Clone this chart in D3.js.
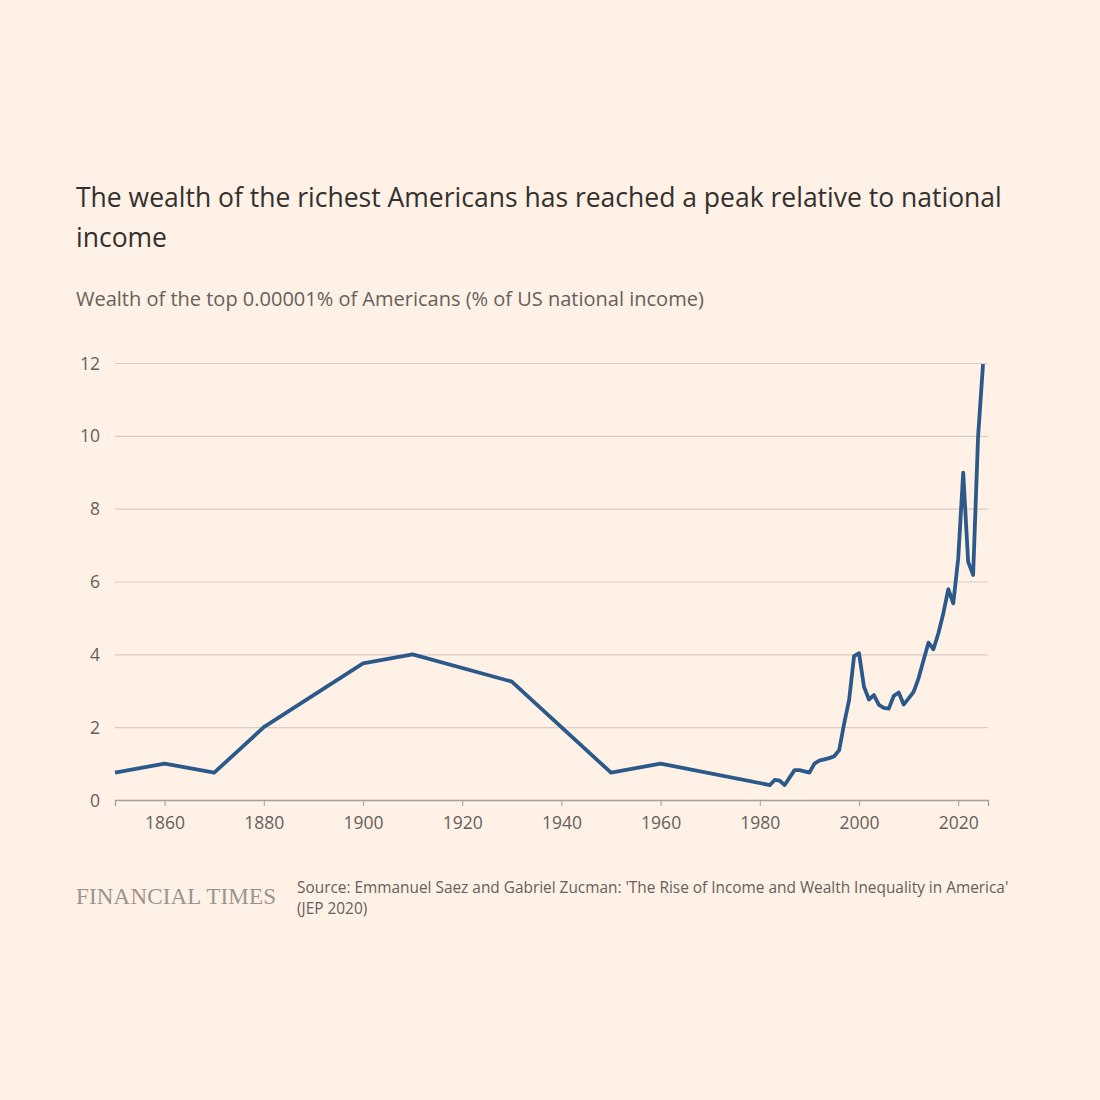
<!DOCTYPE html>
<html>
<head>
<meta charset="utf-8">
<script src="https://cdn.jsdelivr.net/npm/d3@7"></script>
<style>
  body { margin: 0; background: #fff1e5; }
  svg { display: block; }
  .title { font-family: "Open Sans", sans-serif; fill: #33302e; }
  .sub { font-family: "Open Sans", sans-serif; fill: #66605c; }
  .tick text { font-family: "Open Sans", sans-serif; fill: #66605c; font-size: 17.5px; }
</style>
</head>
<body>
<div id="chart"></div>
<script>
// data: wealth of top 0.00001% (% of US national income)
const years = [1850, 1860, 1870, 1880, 1900, 1910, 1930, 1950, 1960, 1982, 1983, 1984, 1985,
    1987, 1988, 1990, 1991, 1992, 1994, 1995, 1996, 1997, 1998, 1999, 2000, 2001, 2002, 2003,
    2004, 2005, 2006, 2007, 2008, 2009, 2010, 2011, 2012, 2013, 2014, 2015, 2016, 2017, 2018,
    2019, 2020, 2021, 2022, 2023, 2024, 2025];
const values = [0.75, 1.0, 0.75, 2.0, 3.75, 4.0, 3.25, 0.75, 1.0, 0.41, 0.55, 0.53, 0.41,
    0.82, 0.82, 0.75, 1.0, 1.08, 1.15, 1.2, 1.37, 2.1, 2.75, 3.95, 4.03, 3.11, 2.76, 2.88,
    2.61, 2.53, 2.51, 2.86, 2.95, 2.62, 2.79, 2.97, 3.34, 3.84, 4.32, 4.14, 4.58, 5.13, 5.79,
    5.4, 6.64, 8.99, 6.54, 6.18, 9.98, 11.97];
const yTicks = [0, 2, 4, 6, 8, 10, 12];
const xTicks = [1860, 1880, 1900, 1920, 1940, 1960, 1980, 2000, 2020];

const data = years.map((y, i) => ({ year: y, value: values[i] }));

// layout
const svgWidth = 1100,
    svgHeight = 1100,
    margin = { top: 363, right: 112, bottom: 300, left: 115 },
    width = svgWidth - margin.left - margin.right,
    height = svgHeight - margin.top - margin.bottom;

let svg = d3.select("#chart").append("svg")
    .attr("width", svgWidth)
    .attr("height", svgHeight);

svg.append("rect")
    .attr("width", svgWidth)
    .attr("height", svgHeight)
    .attr("fill", "#fff1e5");

// titles
svg.append("text")
    .attr("class", "title")
    .attr("x", 76).attr("y", 207)
    .attr("font-size", 26.5)
    .text("The wealth of the richest Americans has reached a peak relative to national");
svg.append("text")
    .attr("class", "title")
    .attr("x", 76).attr("y", 247)
    .attr("font-size", 26.5)
    .text("income");
svg.append("text")
    .attr("class", "sub")
    .attr("x", 76).attr("y", 306)
    .attr("font-size", 20)
    .text("Wealth of the top 0.00001% of Americans (% of US national income)");

let plot = svg.append("g")
    .attr("transform", `translate(${margin.left},${margin.top})`);

// scales
let xScale = d3.scaleLinear()
    .domain([1850, 2026])
    .range([0, width]);
let yScale = d3.scaleLinear()
    .domain([0, 12])
    .range([height, 0]);

// gridlines + y labels
let yAxis = plot.append("g")
    .call(d3.axisLeft(yScale)
        .tickValues(yTicks)
        .tickSize(-width)
        .tickPadding(15));
yAxis.select(".domain").remove();
yAxis.selectAll(".tick line")
    .attr("stroke", "#d8cdc5")
    .attr("stroke-width", 1.2);
yAxis.selectAll(".tick text").attr("dy", "0.35em");

// x axis
let xAxis = plot.append("g")
    .attr("transform", `translate(0,${height})`)
    .call(d3.axisBottom(xScale)
        .tickValues(xTicks)
        .tickFormat(d3.format("d"))
        .tickSize(6)
        .tickPadding(11));
xAxis.select(".domain")
    .attr("stroke", "#a79f99")
    .attr("stroke-width", 1.3);
xAxis.selectAll(".tick line")
    .attr("stroke", "#a79f99");

// line
let line = d3.line()
    .x((d) => xScale(d.year))
    .y((d) => yScale(d.value));

plot.append("path")
    .datum(data)
    .attr("fill", "none")
    .attr("stroke", "#2b5a8a")
    .attr("stroke-width", 3.8)
    .attr("stroke-linejoin", "round")
    .attr("d", line);

// footer
svg.append("text")
    .attr("x", 76).attr("y", 904)
    .attr("font-family", "'Liberation Serif', 'DejaVu Serif', serif")
    .attr("font-size", 23)
    .attr("fill", "#9b948e")
    .attr("textLength", 200)
    .text("FINANCIAL TIMES");
svg.append("text")
    .attr("class", "sub")
    .attr("x", 297).attr("y", 893)
    .attr("font-size", 15.4)
    .attr("fill", "#4d4845")
    .text("Source: Emmanuel Saez and Gabriel Zucman: 'The Rise of Income and Wealth Inequality in America'");
svg.append("text")
    .attr("class", "sub")
    .attr("x", 297).attr("y", 914)
    .attr("font-size", 15.4)
    .attr("fill", "#4d4845")
    .text("(JEP 2020)");
</script>
</body>
</html>
